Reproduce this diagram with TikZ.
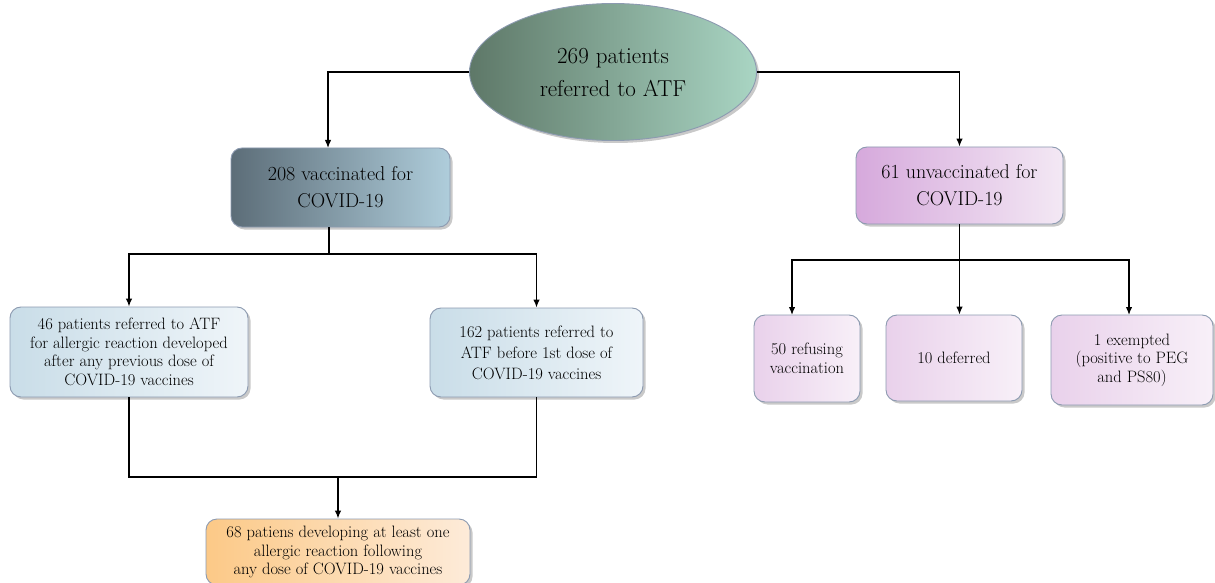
\documentclass[tikz,border=0pt]{standalone}
\usetikzlibrary{shapes.geometric,shadows,arrows.meta,calc}
\definecolor{edge}{HTML}{8C9AB0}
\definecolor{ellL}{HTML}{5E7868}
\definecolor{ellR}{HTML}{A9D5C3}
\definecolor{vacL}{HTML}{5C6D78}
\definecolor{vacR}{HTML}{AFCDDB}
\definecolor{subL}{HTML}{C9DDE8}
\definecolor{subR}{HTML}{EFF5F9}
\definecolor{unvL}{HTML}{D6A9DC}
\definecolor{unvR}{HTML}{F3E8F4}
\definecolor{rL}{HTML}{E9D1EB}
\definecolor{rR}{HTML}{F8F0F8}
\definecolor{orL}{HTML}{FCC987}
\definecolor{orR}{HTML}{FDEBD9}
\tikzset{
  fbox/.style={draw=edge, line width=0.9pt, rounded corners=11pt, align=center,
    inner sep=2pt, text=black,
    drop shadow={shadow xshift=2.5pt, shadow yshift=-2.5pt, opacity=0.3, fill=black!70}},
  bigtxt/.style={font=\rmfamily\fontsize{20}{27}\selectfont},
  smtxt/.style={font=\rmfamily\fontsize{16.5}{18.5}\selectfont},
  widetxt/.style={font=\rmfamily\fontsize{16.5}{21}\selectfont},
  arr/.style={-{Latex[length=8pt,width=6.5pt]}, line width=1.3pt},
  ln/.style={line width=1.3pt}
}
\begin{document}
\begin{tikzpicture}[x=1pt,y=-1pt]
\useasboundingbox (0,0) rectangle (1215,583);
% root
\node[ellipse, draw=edge, line width=0.9pt, left color=ellL, right color=ellR,
  minimum width=287pt, minimum height=137pt, inner sep=0pt, align=center,
  font=\rmfamily\fontsize{23}{33}\selectfont,
  drop shadow={shadow xshift=2.5pt, shadow yshift=-2.5pt, opacity=0.3, fill=black!70}]
  (root) at (613,72) {269 patients\\referred to ATF};
% level 1
\node[fbox, bigtxt, left color=vacL, right color=vacR, minimum width=219pt, minimum height=79pt]
  (vac) at (340.5,187.5) {208 vaccinated for\\COVID-19};
\node[fbox, bigtxt, left color=unvL, right color=unvR, minimum width=207pt, minimum height=77pt]
  (unv) at (959.5,185.5) {61 unvaccinated for\\COVID-19};
% level 2 left
\node[fbox, smtxt, left color=subL, right color=subR, minimum width=238pt, minimum height=90pt]
  (b46) at (129,352) {46 patients referred to ATF\\for allergic reaction developed\\after any previous dose of\\COVID-19 vaccines};
\node[fbox, widetxt, left color=subL, right color=subR, minimum width=213pt, minimum height=89pt]
  (b162) at (536.5,352.5) {162 patients referred to\\ATF before 1st dose of\\COVID-19 vaccines};
% level 2 right
\node[fbox, smtxt, left color=rL, right color=rR, minimum width=106pt, minimum height=87pt]
  (b50) at (807,358.5) {50 refusing\\vaccination};
\node[fbox, smtxt, left color=rL, right color=rR, minimum width=136pt, minimum height=86pt]
  (b10) at (954,358) {10 deferred};
\node[fbox, smtxt, left color=rL, right color=rR, minimum width=162pt, minimum height=90pt]
  (b1) at (1132,360) {1 exempted\\(positive to PEG\\and PS80)};
% level 3
\node[fbox, smtxt, left color=orL, right color=orR, minimum width=264pt, minimum height=66pt]
  (b68) at (338,552) {68 patiens developing at least one\\allergic reaction following\\any dose of COVID-19 vaccines};
% connectors
\coordinate (jv) at (328,148);
\draw[arr] (root.west) -| (jv);
\draw[arr] (root.east) -| (unv.north);
\coordinate (j1) at (329,254);
\draw[ln] (vac.south -| j1) -- (j1);
\draw[arr] (j1) -| (b46.north);
\draw[arr] (j1) -| (b162.north);
\coordinate (j2) at (338,477);
\draw[ln] (b46.south) |- (j2);
\draw[ln] (b162.south) |- (j2);
\draw[arr] (j2) -- (b68.north);
\coordinate (j3) at (959,260);
\coordinate (t50) at (792,315);
\coordinate (t1) at (1129,315);
\draw[arr] (unv.south) -- (unv.south |- b10.north);
\draw[arr] (j3) -| (t50);
\draw[arr] (j3) -| (t1);
\end{tikzpicture}
\end{document}
